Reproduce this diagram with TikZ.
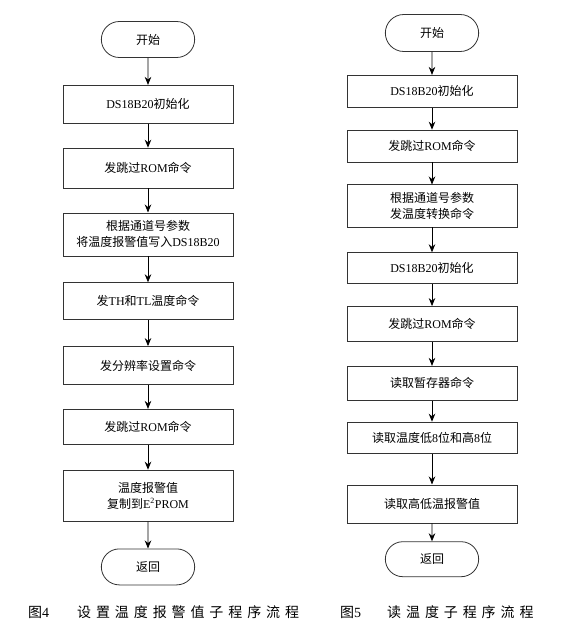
\documentclass[tikz,border=0pt]{standalone}
\usepackage{fontspec}
\setmainfont{Noto Sans CJK SC}
\newfontfamily\en{Liberation Serif}
\newfontfamily\capfont[LetterSpace=35]{Noto Sans CJK SC}
\usetikzlibrary{arrows.meta,shapes.misc,positioning}

\begin{document}
\begin{tikzpicture}[
  x=1pt, y=1pt,
  font=\fontsize{12}{16}\selectfont,
  >={Stealth[length=8pt,width=6.5pt]},
  every node/.style={align=center},
  arr/.style={->, draw=black, line width=0.8pt},
  procbox/.style={rectangle, draw=black!80, line width=0.8pt, minimum width=170pt, minimum height=#1, inner sep=2pt},
  procbox/.default=38pt,
  termbox/.style={rounded rectangle, draw=black!80, line width=0.8pt, minimum width=100pt, minimum height=36pt},
  capstyle/.style={anchor=west, inner sep=0pt, font=\capfont\fontsize{14}{16}\selectfont}
]
  \useasboundingbox (0,0) rectangle (571,-644);

  % Fig. 4: set alarm values
  \node[termbox] (l0) at (148,-39.5) {开始};
  \node[procbox, below=27pt of l0] (l1) {{\en DS18B20}初始化};
  \node[procbox=40pt, below=24pt of l1] (l2) {发跳过{\en ROM}命令};
  \node[procbox=43pt, below=24pt of l2] (l3) {根据通道号参数\\将温度报警值写入{\en DS18B20}};
  \node[procbox=37pt, below=26pt of l3] (l4) {发{\en TH}和{\en TL}温度命令};
  \node[procbox, below=26pt of l4] (l5) {发分辨率设置命令};
  \node[procbox=35pt, below=24pt of l5] (l6) {发跳过{\en ROM}命令};
  \node[procbox=51pt, below=25pt of l6] (l7) {温度报警值\\复制到{\en E\textsuperscript{2}PROM}};
  \node[termbox, below=27pt of l7] (l8) {返回};

  % Fig. 5: read temperature
  \node[termbox, minimum height=37pt] (r0) at (432,-33) {开始};
  \node[procbox=32pt, below=23pt of r0] (r1) {{\en DS18B20}初始化};
  \node[procbox=32pt, below=22pt of r1] (r2) {发跳过{\en ROM}命令};
  \node[procbox=42pt, below=22pt of r2] (r3) {根据通道号参数\\发温度转换命令};
  \node[procbox=31pt, below=25pt of r3] (r4) {{\en DS18B20}初始化};
  \node[procbox=35pt, below=22pt of r4] (r5) {发跳过{\en ROM}命令};
  \node[procbox=34pt, below=24pt of r5] (r6) {读取暂存器命令};
  \node[procbox=31pt, below=21pt of r6] (r7) {读取温度低{\en 8}位和高{\en 8}位};
  \node[procbox=38pt, below=31pt of r7] (r8) {读取高低温报警值};
  \node[termbox, minimum height=35pt, below=18pt of r8] (r9) {返回};

  % Connecting Arrows
  \foreach \a/\b in {l0/l1,l1/l2,l2/l3,l3/l4,l4/l5,l5/l6,l6/l7,l7/l8}
    \draw[arr] (\a) -- (\b);
  \foreach \a/\b in {r0/r1,r1/r2,r2/r3,r3/r4,r4/r5,r5/r6,r6/r7,r7/r8,r8/r9}
    \draw[arr] (\a) -- (\b);

  % Captions
  \node[capstyle] (cap4) at (28,-612) {图{\en 4}\hspace{28pt}设置温度报警值子程序流程};
  \node[capstyle] (cap5) at (340,-612) {图{\en 5}\hspace{26pt}读温度子程序流程};
\end{tikzpicture}
\end{document}
